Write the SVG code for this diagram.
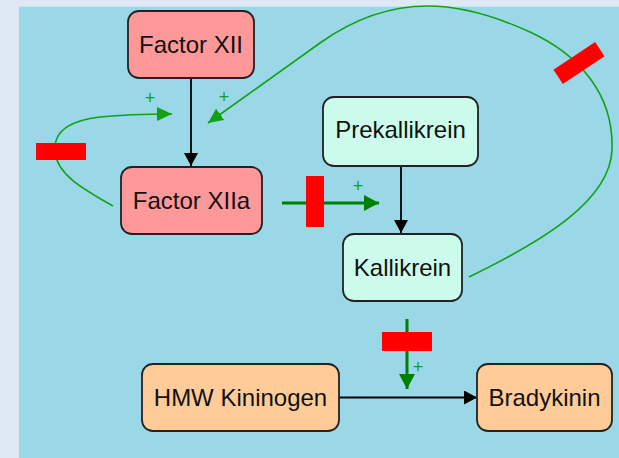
<svg xmlns="http://www.w3.org/2000/svg" width="619" height="458" viewBox="0 0 619 458">
<defs>
<marker id="blk" markerUnits="userSpaceOnUse" markerWidth="14" markerHeight="14" refX="13" refY="7" orient="auto"><path d="M0,0 L13,7 L0,14 z" fill="#000"/></marker>
<marker id="grn" markerUnits="userSpaceOnUse" markerWidth="16" markerHeight="14" refX="15" refY="7" orient="auto"><path d="M0,0 L15,7 L0,14 z" fill="#14a014"/></marker>
<marker id="grn2" markerUnits="userSpaceOnUse" markerWidth="16" markerHeight="16" refX="15" refY="8" orient="auto"><path d="M0,0 L15,8 L0,16 z" fill="#008000"/></marker>
<style>
.node rect{stroke:#222;stroke-width:1.8}
.red{fill:#ff0000}
.lbl{font-family:"Liberation Sans",Arial,sans-serif;font-size:24px;fill:#111;text-anchor:middle}
.pl{font-family:"Liberation Sans",Arial,sans-serif;font-size:18px;fill:#14a014;text-anchor:middle}
.thin{fill:none;stroke:#14a014;stroke-width:1.6}
.thick{fill:none;stroke:#008000;stroke-width:3}
.blk{fill:none;stroke:#000;stroke-width:1.8}
.pink{fill:#ff9999}.mint{fill:#ccfcec}.peach{fill:#ffcc99}
</style>
</defs>
<rect x="0" y="0" width="619" height="458" fill="#dfe9f5"/>
<rect x="19" y="6" width="600" height="452" fill="#9ad8e8"/>
<line x1="19" y1="6.5" x2="619" y2="6.5" stroke="#c2e6f0" stroke-width="1"/>
<g id="connectors">
<path class="blk" d="M191,78 L191,166" marker-end="url(#blk)"/>
<path class="blk" d="M401,166 L401,233" marker-end="url(#blk)"/>
<path class="blk" d="M339,397.5 L477,397.5" marker-end="url(#blk)"/>
<path class="thin" d="M113,206 C85,190 57,175 55,152 C53,128 75,120 100,117 C120,115 150,114 172,114" marker-end="url(#grn)"/>
<rect class="red" x="36" y="143" width="50" height="17"/>
<text class="pl" x="150" y="104">+</text>
<path class="thin" d="M469,277 C545,240 610,200 612,150 C614,95 580,55 530,32 C495,16 460,6 428,6 C390,6 355,18 320,43 L208,123" marker-end="url(#grn)"/>
<rect class="red" x="554" y="54.5" width="50" height="17" transform="rotate(-33.5 579 63)"/>
<text class="pl" x="224" y="103">+</text>
<path class="thick" d="M282,203 L379,203" marker-end="url(#grn2)"/>
<rect class="red" x="306" y="176" width="18" height="51"/>
<text class="pl" x="358" y="192">+</text>
<path class="thick" d="M407,319 L407,389" marker-end="url(#grn2)"/>
<rect class="red" x="382" y="332" width="50" height="19"/>
<text class="pl" x="418" y="373">+</text>
</g>
<g id="factor-xii" class="node"><rect class="pink" x="128" y="11" width="126" height="67" rx="11"/><text class="lbl" x="191" y="53">Factor XII</text></g>
<g id="factor-xiia" class="node"><rect class="pink" x="121" y="167" width="141" height="67" rx="11"/><text class="lbl" x="191.5" y="208.5">Factor XIIa</text></g>
<g id="prekallikrein" class="node"><rect class="mint" x="323" y="97" width="155" height="69" rx="11"/><text class="lbl" x="400.5" y="138">Prekallikrein</text></g>
<g id="kallikrein" class="node"><rect class="mint" x="343" y="234" width="119" height="67" rx="11"/><text class="lbl" x="402.5" y="276">Kallikrein</text></g>
<g id="hmw-kininogen" class="node"><rect class="peach" x="142" y="364" width="197" height="67" rx="11"/><text class="lbl" x="240.5" y="406">HMW Kininogen</text></g>
<g id="bradykinin" class="node"><rect class="peach" x="477" y="364" width="135" height="67" rx="11"/><text class="lbl" x="544.5" y="406">Bradykinin</text></g>
</svg>
